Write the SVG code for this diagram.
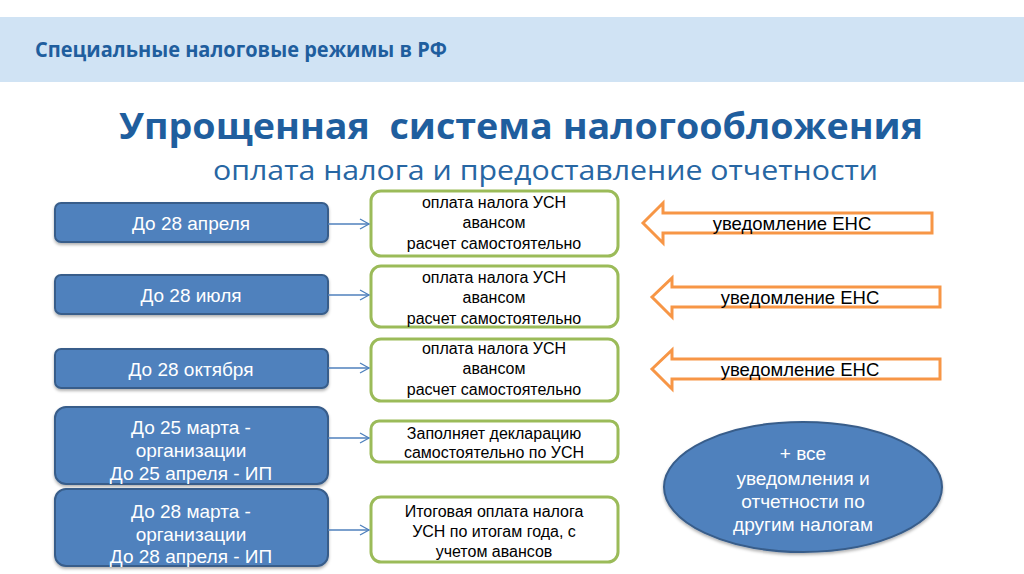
<svg xmlns="http://www.w3.org/2000/svg" width="1024" height="574" viewBox="0 0 1024 574">
<defs>
<style>
.hdr{font-family:"Open Sans","Liberation Sans",sans-serif;font-weight:bold;fill:#1f5e9e}
.sub{font-family:"Open Sans","Liberation Sans",sans-serif;fill:#2766a3}
.blue rect,.blue ellipse{fill:#4f81bd;stroke:#385d8a;stroke-width:2}
.blue text{font-family:"Liberation Sans",Arial,sans-serif;font-size:19px;fill:#fff;text-anchor:middle}
.green rect{fill:#fff;stroke:#9bbb59;stroke-width:3}
.green text{font-family:"Liberation Sans",Arial,sans-serif;font-size:16px;fill:#000;text-anchor:middle}
.orange path{fill:#fff;stroke:#f79646;stroke-width:3;stroke-linejoin:miter}
.orange text{font-family:"Liberation Sans",Arial,sans-serif;font-size:18.5px;fill:#000;text-anchor:middle}
.conn line{stroke:#4f81bd;stroke-width:1.3}
</style>
<marker id="ah" markerWidth="12" markerHeight="12" refX="10" refY="6" orient="auto" markerUnits="userSpaceOnUse">
<path d="M1,1 L10,6 L1,11" fill="none" stroke="#4f81bd" stroke-width="1.3"/>
</marker>
<filter id="sh" x="-10%" y="-10%" width="120%" height="130%">
<feDropShadow dx="0" dy="2" stdDeviation="1.5" flood-color="#000" flood-opacity="0.3"/>
</filter>
</defs>
<rect width="1024" height="574" fill="#fff"/>
<rect x="0" y="17" width="1024" height="65" fill="#d0e3f4"/>
<text class="hdr" x="35" y="57" font-size="21" textLength="412" lengthAdjust="spacingAndGlyphs">Специальные налоговые режимы в РФ</text>
<text class="hdr" x="119" y="139" font-size="36" textLength="804" lengthAdjust="spacingAndGlyphs" xml:space="preserve">Упрощенная  система налогообложения</text>
<text class="sub" x="213" y="180" font-size="28" textLength="665" lengthAdjust="spacingAndGlyphs">оплата налога и предоставление отчетности</text>

<g id="d1" class="blue"><rect x="55" y="203" width="273" height="39" rx="6" filter="url(#sh)"/><text x="191" y="230">До 28 апреля</text></g>
<g id="d2" class="blue"><rect x="55" y="275" width="273" height="39" rx="6" filter="url(#sh)"/><text x="191" y="302">До 28 июля</text></g>
<g id="d3" class="blue"><rect x="55" y="349" width="273" height="39" rx="6" filter="url(#sh)"/><text x="191" y="376">До 28 октября</text></g>
<g id="d4" class="blue"><rect x="55" y="407" width="273" height="77" rx="11" filter="url(#sh)"/><text x="191" y="434">До 25 марта -</text><text x="191" y="457">организации</text><text x="191" y="480">До 25 апреля - ИП</text></g>
<g id="d5" class="blue"><rect x="55" y="489" width="273" height="77" rx="11" filter="url(#sh)"/><text x="191" y="518">До 28 марта -</text><text x="191" y="541">организации</text><text x="191" y="563">До 28 апреля - ИП</text></g>

<g id="g1" class="green"><rect x="371" y="191" width="247" height="65" rx="10"/><text x="494" y="208">оплата налога УСН</text><text x="494" y="228">авансом</text><text x="494" y="249">расчет самостоятельно</text></g>
<g id="g2" class="green"><rect x="371" y="266" width="247" height="61" rx="10"/><text x="494" y="283">оплата налога УСН</text><text x="494" y="303">авансом</text><text x="494" y="324">расчет самостоятельно</text></g>
<g id="g3" class="green"><rect x="371" y="339" width="247" height="62" rx="10"/><text x="494" y="354">оплата налога УСН</text><text x="494" y="374">авансом</text><text x="494" y="395">расчет самостоятельно</text></g>
<g id="g4" class="green"><rect x="371" y="421" width="247" height="41" rx="8"/><text x="494" y="439">Заполняет декларацию</text><text x="494" y="458">самостоятельно по УСН</text></g>
<g id="g5" class="green"><rect x="371" y="497" width="247" height="65" rx="10"/><text x="494" y="517">Итоговая оплата налога</text><text x="494" y="537">УСН по итогам года, с</text><text x="494" y="557">учетом авансов</text></g>

<g id="o1" class="orange"><path d="M643,223 L663,203 L663,213 L932,213 L932,233 L663,233 L663,243 Z"/><text x="792" y="230">уведомление ЕНС</text></g>
<g id="o2" class="orange"><path d="M652,297 L672,278 L672,287 L940,287 L940,307 L672,307 L672,317 Z"/><text x="800" y="304">уведомление ЕНС</text></g>
<g id="o3" class="orange"><path d="M652,369 L672,350 L672,359 L940,359 L940,379 L672,379 L672,389 Z"/><text x="800" y="376">уведомление ЕНС</text></g>

<g id="e1" class="blue"><ellipse cx="803" cy="487" rx="139" ry="65" filter="url(#sh)"/><text x="803" y="460">+ все</text><text x="803" y="485">уведомления и</text><text x="803" y="508">отчетности по</text><text x="803" y="531">другим налогам</text></g>

<g id="connectors" class="conn">
<line x1="328" y1="224" x2="369" y2="224" marker-end="url(#ah)"/>
<line x1="328" y1="295" x2="369" y2="295" marker-end="url(#ah)"/>
<line x1="328" y1="368" x2="369" y2="368" marker-end="url(#ah)"/>
<line x1="328" y1="438" x2="369" y2="438" marker-end="url(#ah)"/>
<line x1="328" y1="530" x2="369" y2="530" marker-end="url(#ah)"/>
</g>
</svg>
